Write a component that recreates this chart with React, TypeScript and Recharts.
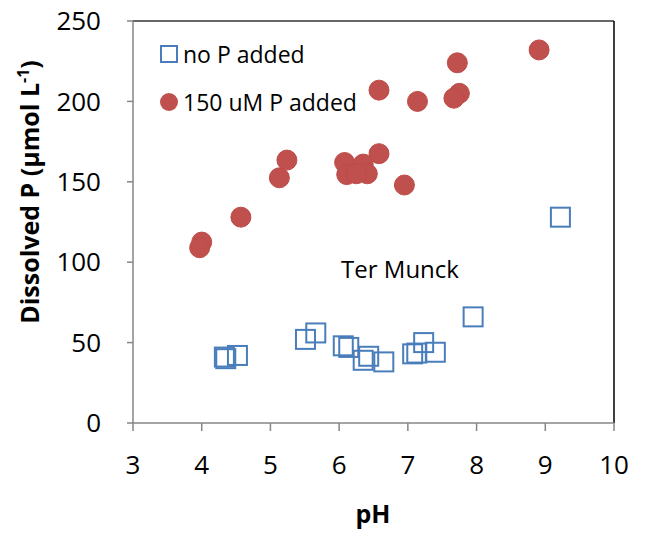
import React from "react";
import {
  ScatterChart,
  Scatter,
  XAxis,
  YAxis,
  ReferenceLine,
} from "recharts";

// pH and dissolved P readings, Ter Munck soil
const noPpH = [9.22, 7.95, 5.51, 5.66, 6.06, 6.14, 6.43, 6.35, 6.65, 4.35, 4.33, 4.52, 7.07, 7.13, 7.23, 7.4];
const noPvalues = [128, 66, 52, 56, 48, 47, 41.5, 39, 38, 40, 41, 42, 43, 43.5, 50, 44];

const addedPpH = [8.91, 7.72, 6.58, 7.14, 7.75, 7.67, 5.24, 5.13, 6.58, 6.08, 6.11, 6.35, 6.41, 6.25, 6.95, 4.57, 4.0, 3.97];
const addedPvalues = [232, 224, 207, 200, 205, 202, 163.5, 152.5, 167.5, 162, 154.5, 161, 155, 155, 148, 128, 112.5, 109];

const xTicks = [3, 4, 5, 6, 7, 8, 9, 10];
const yTicks = [0, 50, 100, 150, 200, 250];

const noPData = noPpH.map((x, i) => ({ x, y: noPvalues[i] }));
const addedPData = addedPpH.map((x, i) => ({ x, y: addedPvalues[i] }));

const FONT = "'Open Sans', sans-serif";
const BLUE = "#4a7ebb";
const RED = "#c0504d";

const SquareMarker = (props: any) => {
  const { cx, cy } = props;
  return (
    <rect x={cx - 9.5} y={cy - 9.5} width={19} height={19} fill="none" stroke={BLUE} strokeWidth={2} />
  );
};

const CircleMarker = (props: any) => {
  const { cx, cy } = props;
  return <circle cx={cx} cy={cy} r={10} fill={RED} stroke="#be4b48" strokeWidth={1} />;
};

const LegendBox = () => (
  <div
    style={{
      position: "absolute",
      left: 159,
      top: 30,
      fontFamily: FONT,
      fontSize: 23,
      color: "#000",
      lineHeight: "48px",
      whiteSpace: "nowrap",
    }}
  >
    <div style={{ display: "flex", alignItems: "center" }}>
      <svg width={20} height={20} style={{ marginRight: 4 }}>
        <rect x={2} y={2} width={16} height={16} fill="none" stroke={BLUE} strokeWidth={2} />
      </svg>
      no P added
    </div>
    <div style={{ display: "flex", alignItems: "center" }}>
      <svg width={20} height={20} style={{ marginRight: 4 }}>
        <circle cx={10} cy={10} r={9} fill={RED} />
      </svg>
      150 uM P added
    </div>
  </div>
);

const YLabel = () => (
  <text
    transform="translate(39,192) rotate(-90)"
    textAnchor="middle"
    fontFamily={FONT}
    fontWeight="bold"
    fontSize={25}
    fill="#000"
  >
    Dissolved P (µmol L<tspan dy={-10} fontSize={16}>-1</tspan>
    <tspan dy={10}>)</tspan>
  </text>
);

const App: React.FC = () => {
  return (
    <div style={{ position: "absolute", left: 0, top: 0, width: 647, height: 535, background: "#fff" }}>
      <ScatterChart width={647} height={535} margin={{ top: 21, right: 33, left: 73, bottom: 72 }}>
        <XAxis
          type="number"
          dataKey="x"
          domain={[3, 10]}
          ticks={xTicks}
          allowDataOverflow
          height={40}
          tickSize={8}
          tickMargin={25}
          stroke="#868686"
          strokeWidth={1.5}
          tick={{ fill: "#000", fontSize: 26, fontFamily: FONT }}
        />
        <YAxis
          type="number"
          dataKey="y"
          domain={[0, 250]}
          ticks={yTicks}
          allowDataOverflow
          width={60}
          tickSize={6}
          tickMargin={26}
          stroke="#868686"
          strokeWidth={1.5}
          tick={{ fill: "#000", fontSize: 26, fontFamily: FONT }}
          label={{ content: () => <YLabel /> }}
        />
        <ReferenceLine y={250} stroke="#333" strokeWidth={1.5} />
        <ReferenceLine x={10} stroke="#000" strokeWidth={1.5} />
        <Scatter name="no P added" data={noPData} shape={<SquareMarker />} isAnimationActive={false} />
        <Scatter name="150 uM P added" data={addedPData} shape={<CircleMarker />} isAnimationActive={false} />
      </ScatterChart>
      <LegendBox />
      <div
        style={{
          position: "absolute",
          left: 400,
          top: 268,
          transform: "translate(-50%, -50%)",
          fontFamily: FONT,
          fontSize: 24,
          color: "#000",
          whiteSpace: "nowrap",
        }}
      >
        Ter Munck
      </div>
      <div
        style={{
          position: "absolute",
          left: 373,
          top: 513,
          transform: "translate(-50%, -50%)",
          fontFamily: FONT,
          fontSize: 25,
          fontWeight: "bold",
          color: "#000",
        }}
      >
        pH
      </div>
    </div>
  );
};

export default App;
